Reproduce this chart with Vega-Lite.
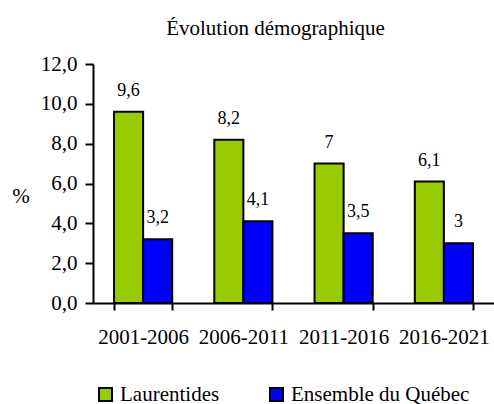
{
  "$schema": "https://vega.github.io/schema/vega-lite/v6.json",
  "autosize": {"type": "none"},
  "padding": {"left": 93, "top": 64, "right": 0, "bottom": 101},
  "width": 401,
  "height": 239,
  "background": "white",
  "title": {
    "text": "Évolution démographique",
    "font": "Liberation Serif",
    "fontSize": 21,
    "fontWeight": "normal",
    "color": "black",
    "anchor": "middle",
    "frame": "group",
    "baseline": "alphabetic",
    "offset": -3,
    "dx": -18
  },
  "data": {
    "values": [
      {"period": "2001-2006", "series": "Laurentides", "value": 9.6},
      {"period": "2001-2006", "series": "Ensemble du Québec", "value": 3.2},
      {"period": "2006-2011", "series": "Laurentides", "value": 8.2},
      {"period": "2006-2011", "series": "Ensemble du Québec", "value": 4.1},
      {"period": "2011-2016", "series": "Laurentides", "value": 7},
      {"period": "2011-2016", "series": "Ensemble du Québec", "value": 3.5},
      {"period": "2016-2021", "series": "Laurentides", "value": 6.1},
      {"period": "2016-2021", "series": "Ensemble du Québec", "value": 3}
    ]
  },
  "encoding": {
    "x": {
      "field": "period",
      "type": "nominal",
      "sort": null,
      "scale": {"paddingInner": 0.42, "paddingOuter": 0.21},
      "axis": {
        "title": null,
        "labelAngle": 0,
        "tickBand": "extent",
        "tickSize": 7,
        "tickWidth": 2,
        "tickColor": "black",
        "domainColor": "black",
        "domainWidth": 2,
        "labelPadding": 16,
        "labelBaseline": "top",
        "labelFont": "Liberation Serif",
        "labelFontSize": 21,
        "labelColor": "black"
      }
    },
    "xOffset": {
      "field": "series",
      "type": "nominal",
      "sort": ["Laurentides", "Ensemble du Québec"],
      "scale": {"paddingInner": 0, "paddingOuter": 0}
    },
    "y": {
      "field": "value",
      "type": "quantitative",
      "scale": {"domain": [0, 12], "nice": false},
      "axis": {
        "title": "%",
        "titleAngle": 0,
        "titleX": -72.5,
        "titleY": 132,
        "titleAlign": "center",
        "titleBaseline": "middle",
        "titleFont": "Liberation Serif",
        "titleFontSize": 21,
        "titleFontWeight": "normal",
        "titleColor": "black",
        "values": [0, 2, 4, 6, 8, 10, 12],
        "format": ".1f",
        "grid": false,
        "tickSize": 8,
        "tickWidth": 2,
        "tickColor": "black",
        "domainColor": "black",
        "domainWidth": 2,
        "labelPadding": 8,
        "labelFont": "Liberation Serif",
        "labelFontSize": 21,
        "labelColor": "black"
      }
    }
  },
  "layer": [
    {
      "mark": {"type": "bar", "stroke": "black", "strokeWidth": 2},
      "encoding": {
        "color": {
          "field": "series",
          "type": "nominal",
          "sort": ["Laurentides", "Ensemble du Québec"],
          "scale": {"domain": ["Laurentides", "Ensemble du Québec"], "range": ["#99CC00", "#0000FF"]},
          "legend": {
            "title": null,
            "orient": "none",
            "direction": "horizontal",
            "legendX": 2,
            "legendY": 320,
            "symbolType": "square",
            "symbolSize": 169,
            "symbolStrokeColor": "black",
            "symbolStrokeWidth": 2,
            "symbolOpacity": 1,
            "labelFont": "Liberation Serif",
            "labelFontSize": 21,
            "labelColor": "black",
            "labelOffset": 4,
            "columnPadding": 46,
            "labelLimit": 300
          }
        }
      }
    },
    {
      "mark": {
        "type": "text",
        "baseline": "alphabetic",
        "align": "center",
        "dy": -16,
        "font": "Liberation Serif",
        "fontSize": 18,
        "color": "black"
      },
      "encoding": {
        "text": {"field": "value", "type": "quantitative", "format": ".1~f"}
      }
    }
  ],
  "config": {
    "view": {"stroke": null},
    "locale": {
      "number": {"decimal": ",", "thousands": " ", "grouping": [3], "currency": ["", " $"]}
    }
  }
}
